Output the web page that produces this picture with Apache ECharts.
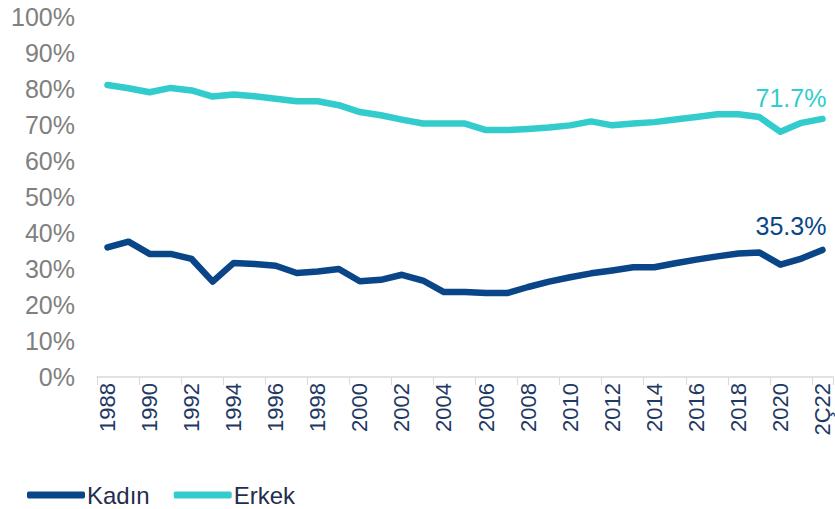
<!DOCTYPE html>
<html>
<head>
<meta charset="utf-8">
<script src="https://cdn.jsdelivr.net/npm/echarts@6/dist/echarts.min.js"></script>
<style>
  html, body { margin: 0; padding: 0; background: #ffffff; }
  #chart { width: 835px; height: 509px; }
</style>
</head>
<body>
<div id="chart"></div>
<script>
(function() {
  var years = ['1988', '1989', '1990', '1991', '1992', '1993', '1994', '1995', '1996', '1997',
    '1998', '1999', '2000', '2001', '2002', '2003', '2004', '2005', '2006', '2007',
    '2008', '2009', '2010', '2011', '2012', '2013', '2014', '2015', '2016', '2017',
    '2018', '2019', '2020', '2021', '2Ç22'];

  var kadin = [36.0, 37.6, 34.2, 34.2, 32.8, 26.5, 31.7, 31.4, 30.9, 28.9,
    29.3, 30.0, 26.6, 27.0, 28.4, 26.8, 23.6, 23.6, 23.3, 23.3,
    25.0, 26.5, 27.7, 28.8, 29.6, 30.5, 30.5, 31.6, 32.6, 33.5,
    34.3, 34.6, 31.2, 32.9, 35.3];

  var erkek = [81.1, 80.2, 79.1, 80.3, 79.6, 77.9, 78.5, 78.0, 77.3, 76.6,
    76.6, 75.5, 73.6, 72.7, 71.5, 70.4, 70.4, 70.4, 68.6, 68.6,
    68.9, 69.3, 69.9, 71.0, 69.9, 70.4, 70.8, 71.5, 72.2, 73.0,
    73.0, 72.2, 68.1, 70.6, 71.7];

  var navy = '#0a4687';
  var cyan = '#33cccc';
  var font = '"Liberation Sans", Arial, sans-serif';

  // value label above the last point of a line
  function endLabel(color, dy) {
    return {
      show: true,
      offset: [-75, dy],
      formatter: function(p) { return p.value.toFixed(1) + '%'; },
      color: color,
      fontFamily: font,
      fontSize: 25
    };
  }

  var chart = echarts.init(document.getElementById('chart'), null, { renderer: 'svg' });
  chart.setOption({
    animation: false,
    backgroundColor: '#ffffff',
    grid: { left: 97, right: 2, top: 17, bottom: 132 },
    legend: {
      left: 22,
      top: 478,
      icon: 'roundRect',
      itemWidth: 58,
      itemHeight: 7,
      itemGap: 24,
      textStyle: { color: '#1f2d4f', fontFamily: font, fontSize: 24, padding: [0, 0, 0, -3] },
      data: ['Kadın', 'Erkek']
    },
    xAxis: {
      type: 'category',
      data: years,
      boundaryGap: true,
      axisLine: { lineStyle: { color: '#d9d9d9', width: 1.5 } },
      axisTick: { show: true, length: 8, lineStyle: { color: '#d9d9d9' } },
      axisLabel: {
        interval: 1,
        rotate: 90,
        margin: 6,
        color: '#1f3864',
        fontFamily: font,
        fontSize: 22
      }
    },
    yAxis: {
      type: 'value',
      min: 0,
      max: 100,
      interval: 10,
      axisLine: { show: false },
      axisTick: { show: false },
      splitLine: { show: false },
      axisLabel: {
        margin: 22,
        color: '#808080',
        fontFamily: font,
        fontSize: 25,
        formatter: '{value}%'
      }
    },
    series: [
      {
        name: 'Kadın',
        type: 'line',
        data: kadin,
        symbol: 'none',
        lineStyle: { color: navy, width: 6.5, cap: 'round', join: 'round' },
        itemStyle: { color: navy },
        endLabel: endLabel(navy, -24)
      },
      {
        name: 'Erkek',
        type: 'line',
        data: erkek,
        symbol: 'none',
        lineStyle: { color: cyan, width: 6.5, cap: 'round', join: 'round' },
        itemStyle: { color: cyan },
        endLabel: endLabel(cyan, -21)
      }
    ]
  });
  window.addEventListener('resize', function() { chart.resize(); });
})();
</script>
</body>
</html>
